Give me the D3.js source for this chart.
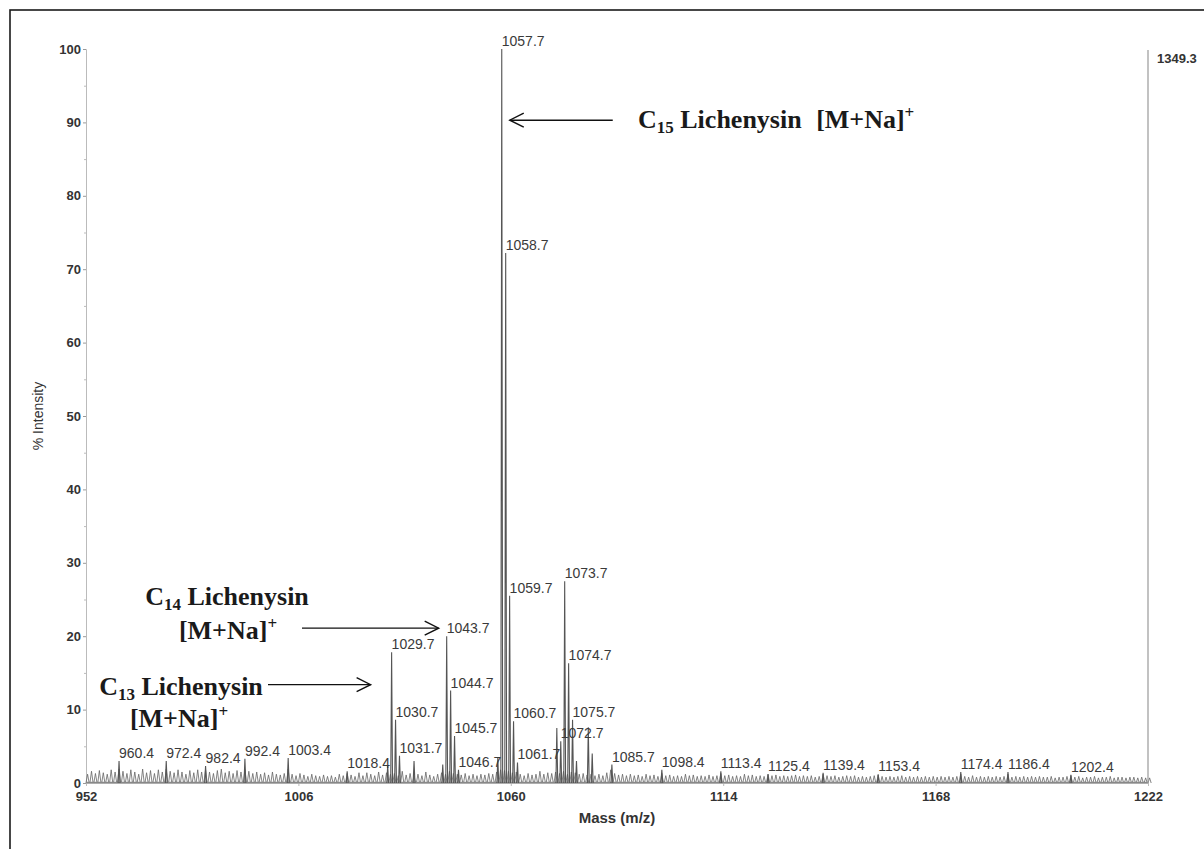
<!DOCTYPE html>
<html>
<head>
<meta charset="utf-8">
<script src="https://cdn.jsdelivr.net/npm/d3@7"></script>
<style>
    body { margin: 0; background: #fff; }
    svg { display: block; font-family: Arial, "Liberation Sans", sans-serif; }
</style>
</head>
<body>
<div id="spectrum"></div>
<script>
// Axis ticks
const xTicks = [952, 1006, 1060, 1114, 1168, 1222];
const yTicks = [0, 10, 20, 30, 40, 50, 60, 70, 80, 90, 100];
const yMinorTicks = [5, 15, 25, 35, 45, 55, 65, 75, 85, 95];

// Baseline noise, one value per nominal mass starting at 952
const noiseStart = 952;
const noiseLevels = [
    1.2,1.6,1.3,1.7,1.4,1.2,1.8,1.5,1.9,1.6,
    1.3,1.8,1.5,1.2,1.9,1.4,1.7,1.3,1.8,1.5,
    1.9,1.6,1.4,1.8,1.5,1.2,1.7,1.4,1.8,1.5,
    1.8,1.5,1.3,1.7,1.9,1.4,1.6,1.3,1.7,1.5,
    1.8,1.6,1.3,1.5,1.2,1.4,1.1,1.5,1.2,1.1,
    1.3,1.9,1.2,1.0,1.3,1.1,0.9,1.2,1.0,0.9,
    1.1,0.9,1.0,0.8,1.2,1.0,1.3,1.1,0.9,1.4,
    1.0,1.4,1.2,1.0,1.5,1.1,1.4,1.2,1.3,1.0,
    1.6,1.1,1.3,1.0,1.2,1.0,1.5,1.1,0.9,1.2,
    1.4,1.2,1.6,1.3,1.2,1.1,1.3,1.0,1.2,1.0,
    1.2,1.1,1.3,1.2,1.5,1.8,1.7,1.6,1.4,1.5,
    1.2,1.0,1.3,1.1,1.2,1.6,1.2,1.4,1.3,1.5,
    1.3,1.6,1.2,1.5,1.4,1.2,1.3,1.1,1.2,1.0,
    1.2,1.0,1.4,1.8,1.3,1.1,1.2,1.0,1.2,1.0,
    1.1,0.9,1.2,1.0,1.1,0.9,1.3,1.0,1.1,0.9,
    1.0,0.9,1.2,1.0,1.1,0.9,1.0,0.9,1.1,0.9,
    1.0,1.3,1.0,1.1,0.9,1.0,0.9,1.2,1.0,1.1,
    0.9,1.0,0.9,1.2,1.0,1.1,0.9,1.0,0.9,1.0,
    1.1,0.9,1.0,0.9,1.0,0.8,0.9,1.2,1.0,0.9,
    1.0,0.8,0.9,1.0,0.9,1.0,0.8,0.9,0.8,0.9,
    1.0,1.1,0.9,0.8,0.9,0.8,0.9,1.0,0.8,0.9,
    0.8,0.9,0.8,0.9,0.8,0.9,0.8,0.9,0.8,0.9,
    0.8,0.9,1.2,0.9,0.8,1.0,0.8,0.9,0.8,0.9,
    0.8,0.9,0.8,0.9,1.2,0.8,0.9,0.8,0.9,0.8,
    0.9,0.8,0.9,0.8,0.8,0.9,0.7,0.8,0.8,0.9,
    1.0,0.8,0.9,0.7,0.8,0.8,0.9,0.7,0.8,0.8,
    0.9,0.7,0.8,0.8,0.7,0.8,0.8,0.7,0.8,0.7,
    0.7
];

// Picked peaks (m/z, % intensity, label shown on the plot)
const peakMz = [960.4, 972.4, 982.4, 992.4, 1003.4, 1018.4,
    1028.7, 1029.7, 1030.7, 1031.7, 1035.4,
    1042.7, 1043.7, 1044.7, 1045.7, 1046.7,
    1056.7, 1057.7, 1058.7, 1059.7, 1060.7, 1061.7,
    1071.7, 1072.7, 1073.7, 1074.7, 1075.7, 1076.7, 1079.7, 1080.7,
    1085.7, 1098.4, 1113.4, 1125.4, 1139.4, 1153.4, 1174.4, 1186.4, 1202.4];
const peakIntensity = [3.0, 3.0, 2.3, 3.3, 3.4, 1.6,
    2.4, 17.8, 8.6, 3.7, 3.0,
    2.5, 20.0, 12.6, 6.4, 1.8,
    3.5, 100, 72.2, 25.5, 8.4, 2.8,
    7.5, 5.7, 27.5, 16.3, 8.6, 3.0, 7.6, 4.0,
    2.5, 1.8, 1.6, 1.2, 1.4, 1.2, 1.5, 1.5, 1.1];
const peakLabels = ["960.4", "972.4", "982.4", "992.4", "1003.4", "1018.4",
    "", "1029.7", "1030.7", "1031.7", "",
    "", "1043.7", "1044.7", "1045.7", "1046.7",
    "", "1057.7", "1058.7", "1059.7", "1060.7", "1061.7",
    "", "1072.7", "1073.7", "1074.7", "1075.7", "", "", "",
    "1085.7", "1098.4", "1113.4", "1125.4", "1139.4", "1153.4", "1174.4", "1186.4", "1202.4"];

// Off-scale base peak drawn at the right edge
const offscaleMz = 1349.3;
const offscaleIntensity = 100;

const width = 1204, height = 849;
const margin = { top: 49, right: 56, bottom: 66, left: 86 };
const plotW = width - margin.left - margin.right,
      plotH = height - margin.top - margin.bottom;

const svg = d3.select("#spectrum")
    .append("svg")
    .attr("width", width)
    .attr("height", height);

// outer frame of the figure
svg.append("rect")
    .attr("x", 10).attr("y", 10)
    .attr("width", 1220).attr("height", 860)
    .attr("fill", "none")
    .attr("stroke", "#1a1a1a")
    .attr("stroke-width", 1.6);

const g = svg.append("g")
    .attr("transform", `translate(${margin.left},${margin.top})`);

const x = d3.scaleLinear().domain([952, 1222]).range([0, plotW]);
const y = d3.scaleLinear().domain([0, 100]).range([plotH, 0]);

// y axis
const yAxis = g.append("g")
    .call(d3.axisLeft(y).tickValues(yTicks).tickSize(3).tickPadding(2));
yAxis.select(".domain").attr("stroke", "#bbb");
yAxis.selectAll(".tick line").attr("stroke", "#999");
yAxis.selectAll("text")
    .attr("font-size", 13).attr("font-weight", "bold")
    .attr("fill", "#333").attr("font-family", "Arial, 'Liberation Sans', sans-serif");

g.append("g")
    .call(d3.axisLeft(y).tickValues(yMinorTicks).tickSize(2).tickFormat(""))
    .call(a => a.select(".domain").remove())
    .selectAll(".tick line").attr("stroke", "#bbb");

// x axis
const xAxis = g.append("g")
    .attr("transform", `translate(0,${plotH})`)
    .call(d3.axisBottom(x).tickValues(xTicks).tickSize(3).tickPadding(6).tickFormat(d3.format("d")));
xAxis.select(".domain").attr("stroke", "#bbb");
xAxis.selectAll(".tick line").attr("stroke", "#bbb");
xAxis.selectAll("text")
    .attr("font-size", 13).attr("font-weight", "bold")
    .attr("fill", "#333").attr("font-family", "Arial, 'Liberation Sans', sans-serif");

// axis titles
g.append("text")
    .attr("x", plotW / 2)
    .attr("y", plotH + 40)
    .attr("text-anchor", "middle")
    .attr("font-size", 15).attr("font-weight", "bold")
    .attr("fill", "#333")
    .text("Mass (m/z)");

g.append("text")
    .attr("transform", "rotate(-90)")
    .attr("x", -(416 - margin.top))
    .attr("y", -margin.left + 43)
    .attr("text-anchor", "middle")
    .attr("font-size", 14)
    .attr("fill", "#333")
    .text("% Intensity");

// a peak is drawn as a thin spike from the baseline
function spike(mz, v, half) {
    const px = x(mz), py = y(v);
    return `M${px - half},${plotH} L${px},${py} L${px + half},${plotH}`;
}

// baseline noise comb
g.append("g")
    .selectAll("path")
    .data(noiseLevels)
    .join("path")
    .attr("d", (v, i) => spike(noiseStart + i + 0.4, v, 1.6))
    .attr("fill", "none")
    .attr("stroke", "#666")
    .attr("stroke-width", 0.8);

g.append("line")
    .attr("x1", 0).attr("x2", plotW)
    .attr("y1", plotH - 0.5).attr("y2", plotH - 0.5)
    .attr("stroke", "#888").attr("stroke-width", 1.5);

// picked peaks
g.append("g")
    .selectAll("path")
    .data(peakMz)
    .join("path")
    .attr("d", (d, i) => spike(d, peakIntensity[i], 0.9))
    .attr("fill", "none")
    .attr("stroke", "#555")
    .attr("stroke-width", 1.1);

g.append("g")
    .selectAll("text")
    .data(peakMz.filter((d, i) => peakLabels[i] !== ""))
    .join("text")
    .attr("x", d => x(d))
    .attr("y", d => y(peakIntensity[peakMz.indexOf(d)]) - 3)
    .attr("font-size", 14)
    .attr("fill", "#3a3a3a")
    .text(d => peakLabels[peakMz.indexOf(d)]);

// off-scale peak at the right edge
g.append("line")
    .attr("x1", plotW).attr("x2", plotW)
    .attr("y1", plotH).attr("y2", y(offscaleIntensity) + 1)
    .attr("stroke", "#999").attr("stroke-width", 1.2);
g.append("text")
    .attr("x", plotW + 9)
    .attr("y", y(offscaleIntensity) + 14)
    .attr("font-size", 13).attr("font-weight", "bold")
    .attr("fill", "#333")
    .text(offscaleMz.toFixed(1));

// annotations
const serif = "'Liberation Serif', 'Times New Roman', serif";

function arrow(x1, x2, yy) {
    const dir = x2 > x1 ? 1 : -1;
    g.append("line")
        .attr("x1", x1).attr("x2", x2).attr("y1", yy).attr("y2", yy)
        .attr("stroke", "#111").attr("stroke-width", 1.4);
    g.append("path")
        .attr("d", `M${x2 - dir * 14},${yy - 7} L${x2},${yy} L${x2 - dir * 14},${yy + 7}`)
        .attr("fill", "none").attr("stroke", "#111").attr("stroke-width", 1.4);
}

function lichenysin(xx, yy, anchor, sub, withIon) {
    const t = g.append("text")
        .attr("x", xx).attr("y", yy)
        .attr("text-anchor", anchor)
        .attr("font-family", serif).attr("font-weight", "bold")
        .attr("font-size", 26).attr("fill", "#1a1a1a");
    t.append("tspan").text("C");
    t.append("tspan").attr("font-size", 17).attr("dy", 5).text(sub);
    t.append("tspan").attr("dy", -5).text(" Lichenysin");
    if (withIon) {
        t.append("tspan").attr("dx", 8).text(" [M+Na]");
        t.append("tspan").attr("font-size", 17).attr("dy", -10).text("+");
    }
}

function ion(xx, yy) {
    const t = g.append("text")
        .attr("x", xx).attr("y", yy)
        .attr("text-anchor", "middle")
        .attr("font-family", serif).attr("font-weight", "bold")
        .attr("font-size", 26).attr("fill", "#1a1a1a");
    t.append("tspan").text("[M+Na]");
    t.append("tspan").attr("font-size", 17).attr("dy", -10).text("+");
}

// C15
arrow(x(1057.7) + 111, x(1057.7) + 8, y(90.3));
lichenysin(638 - margin.left, 128 - margin.top, "start", "15", true);

// C14
arrow(302 - margin.left, x(1043.7) - 8, y(21.1));
lichenysin(227 - margin.left, 605 - margin.top, "middle", "14", false);
ion(228 - margin.left, 639 - margin.top);

// C13
arrow(268 - margin.left, x(1029.7) - 21, y(13.4));
lichenysin(181 - margin.left, 695 - margin.top, "middle", "13", false);
ion(179 - margin.left, 727 - margin.top);
</script>
</body>
</html>
